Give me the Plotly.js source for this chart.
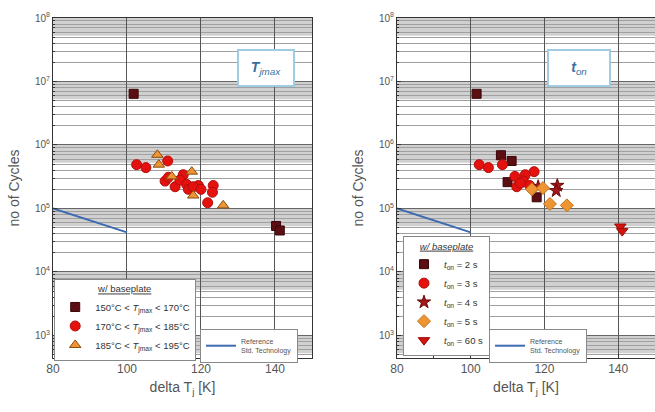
<!DOCTYPE html>
<html>
<head>
<meta charset="utf-8">
<script src="https://cdn.plot.ly/plotly-3.0.1.min.js"></script>
<style>html,body{margin:0;padding:0;background:#fff;}#chart{width:655px;height:412px;}</style>
</head>
<body>
<div id="chart"></div>
<script>
// ---------- data: left panel (T_jmax) ----------
const L_sq_x = [101.8, 140.3, 141.3];
const L_sq_y = [6.4e6, 5.3e4, 4.5e4];
const L_ci_x = [102.6, 105.1, 111.0, 115.2, 110.3, 113.0, 114.3, 116.1, 116.6, 119.3, 123.3, 123.1, 121.8, 111.2, 117.9, 120.0];
const L_ci_y = [4.9e5, 4.4e5, 5.6e5, 3.4e5, 2.7e5, 2.2e5, 2.8e5, 2.4e5, 2.0e5, 2.3e5, 2.3e5, 1.8e5, 1.23e5, 3.1e5, 2.2e5, 2.0e5];
const L_tr_x = [108.2, 108.6, 117.5, 112.1, 117.9, 126.0];
const L_tr_y = [7.0e5, 4.9e5, 3.8e5, 3.2e5, 1.6e5, 1.12e5];
// ---------- data: right panel (t_on) ----------
const R_sq_x = [101.6, 108.2, 111.1, 110.0, 117.9];
const R_sq_y = [6.4e6, 6.9e5, 5.6e5, 2.6e5, 1.5e5];
const R_ci_x = [102.3, 104.8, 108.6, 117.2, 112.0, 114.8, 112.5, 114.3, 116.0, 113.5];
const R_ci_y = [4.9e5, 4.4e5, 4.9e5, 3.8e5, 3.2e5, 3.4e5, 2.2e5, 2.7e5, 2.3e5, 2.5e5];
const R_st_x = [118.3, 123.5, 123.2];
const R_st_y = [2.2e5, 2.3e5, 1.9e5];
const R_di_x = [116.6, 119.6, 121.5, 126.1];
const R_di_y = [2.0e5, 2.1e5, 1.18e5, 1.12e5];
const R_td_x = [140.6, 141.1];
const R_td_y = [5.2e4, 4.4e4];
// ---------- reference line ----------
const ref_x = [80, 100];
const ref_y = [1.0e5, 4.2e4];
// ---------- names / ticks ----------
const L_names = ['150°C < <i>T</i><sub>jmax</sub> < 170°C', '170°C < <i>T</i><sub>jmax</sub> < 185°C', '185°C < <i>T</i><sub>jmax</sub> < 195°C'];
const R_names = ['<i>t</i><sub>on</sub> = 2 s', '<i>t</i><sub>on</sub> = 3 s', '<i>t</i><sub>on</sub> = 4 s', '<i>t</i><sub>on</sub> = 5 s', '<i>t</i><sub>on</sub> = 60 s'];
const ref_name = 'Reference<br>Std. Technology';
const decades = [3, 4, 5, 6, 7, 8];
const y_tickvals = decades.map(d => Math.pow(10, d));
const y_ticktext = decades.map(d => '10<sup>' + d + '</sup>');
const y_minorvals = [];
[2, 3, 4, 5, 6, 7].forEach(d => { for (let k = 2; k <= 9; k++) y_minorvals.push(k * Math.pow(10, d)); });
const x_tickvals = [80, 100, 120, 140];

const C_dark = '#5c0f12', C_red = '#e3120f', C_orange = '#ec9532';

function mk(x, y, name, legend, xa, ya, symbol, color, size, lineColor) {
  return {x: x, y: y, name: name, type: 'scatter', mode: 'markers', legend: legend, xaxis: xa, yaxis: ya,
    marker: {symbol: symbol, color: color, size: size, line: {color: lineColor, width: 1}}};
}
const traces = [
  mk(L_sq_x, L_sq_y, L_names[0], 'legend', 'x', 'y', 'square', C_dark, 9, '#3a0608'),
  mk(L_ci_x, L_ci_y, L_names[1], 'legend', 'x', 'y', 'circle', C_red, 10, '#b50d0b'),
  mk(L_tr_x, L_tr_y, L_names[2], 'legend', 'x', 'y', 'triangle-up', C_orange, 10, '#8a4b12'),
  {x: ref_x, y: ref_y, name: ref_name, type: 'scatter', mode: 'lines', legend: 'legend3', xaxis: 'x', yaxis: 'y',
   line: {color: '#3d6bb0', width: 2}},
  mk(R_sq_x, R_sq_y, R_names[0], 'legend2', 'x2', 'y2', 'square', C_dark, 9, '#3a0608'),
  mk(R_ci_x, R_ci_y, R_names[1], 'legend2', 'x2', 'y2', 'circle', C_red, 10, '#b50d0b'),
  mk(R_st_x, R_st_y, R_names[2], 'legend2', 'x2', 'y2', 'star', '#a3161c', 10, '#6a0a0e'),
  mk(R_di_x, R_di_y, R_names[3], 'legend2', 'x2', 'y2', 'diamond', C_orange, 10, '#c8741c'),
  mk(R_td_x, R_td_y, R_names[4], 'legend2', 'x2', 'y2', 'triangle-down', '#d3140f', 10, '#9a0c08'),
  {x: ref_x, y: ref_y, name: ref_name, type: 'scatter', mode: 'lines', legend: 'legend4', xaxis: 'x2', yaxis: 'y2',
   line: {color: '#3d6bb0', width: 2}}
];

// grey bands near the top of each decade
const shapes = [];
['x', 'x2'].forEach((xa, i) => {
  decades.forEach(d => {
    shapes.push({type: 'rect', layer: 'below', xref: xa + ' domain', yref: i === 0 ? 'y' : 'y2',
      x0: 0, x1: 1, y0: Math.pow(10, d - 0.28), y1: Math.pow(10, d),
      fillcolor: '#d0d0d0', line: {width: 0}});
  });
});

const font = {family: 'Liberation Sans, Arial, sans-serif', color: '#555'};
function xax(domain, anchor) {
  return {domain: domain, anchor: anchor, range: [80, 150], tickmode: 'array', tickvals: x_tickvals,
    showgrid: true, gridcolor: '#555', gridwidth: 1, zeroline: false,
    showline: true, linecolor: '#333', linewidth: 1, mirror: true,
    ticks: 'inside', ticklen: 4, tickcolor: '#333',
    minor: {dtick: 10, ticks: 'inside', ticklen: 3, tickcolor: '#333', showgrid: false},
    tickfont: {size: 12, color: '#555'},
    title: {text: 'delta T<sub>j</sub> [K]', font: {size: 14, color: '#555'}, standoff: 6}};
}
function yax(anchor) {
  return {type: 'log', anchor: anchor, domain: [0, 1], range: [2.645, 8],
    tickmode: 'array', tickvals: y_tickvals, ticktext: y_ticktext,
    showgrid: true, gridcolor: '#666', gridwidth: 1, zeroline: false,
    showline: true, linecolor: '#333', linewidth: 1, mirror: true,
    ticks: 'inside', ticklen: 4, tickcolor: '#333',
    minor: {tickmode: 'array', tickvals: y_minorvals, ticks: 'inside', ticklen: 2, tickcolor: '#333',
      showgrid: true, gridcolor: '#a0a0a0', gridwidth: 1},
    tickfont: {size: 10, color: '#555'},
    title: {text: 'no of Cycles', font: {size: 14, color: '#555'}, standoff: 12}};
}
const legBase = {bgcolor: '#fff', bordercolor: '#888', borderwidth: 1, xanchor: 'left', yanchor: 'top',
  font: {size: 9.5, color: '#333', family: 'Liberation Sans, Arial, sans-serif'}, tracegroupgap: 0, itemwidth: 30};

const layout = {
  width: 655, height: 412, margin: {l: 53, r: 0, t: 18, b: 54},
  paper_bgcolor: '#fff', plot_bgcolor: '#fff', font: font, showlegend: true,
  xaxis: xax([0, 0.4302], 'y'), yaxis: yax('x'),
  xaxis2: xax([0.5714, 1], 'y2'), yaxis2: yax('x2'),
  legend: Object.assign({}, legBase, {x: 0.002, y: 0.232,
    title: {text: '<u>w/ baseplate</u>', side: 'top center', font: {size: 9.5, color: '#333'}}}),
  legend2: Object.assign({}, legBase, {x: 0.5814, y: 0.358,
    title: {text: '<u><i>w/ baseplate</i></u>', side: 'top center', font: {size: 9.5, color: '#333'}}}),
  legend3: Object.assign({}, legBase, {x: 0.2442, y: 0.085, font: {size: 7, color: '#555'}, itemwidth: 30}),
  legend4: Object.assign({}, legBase, {x: 0.7243, y: 0.085, font: {size: 7, color: '#555'}, itemwidth: 30}),
  shapes: shapes,
  annotations: [
    {xref: 'paper', yref: 'paper', x: 0.3538, y: 0.91, showarrow: false, text: '<i><b>T</b><sub>jmax</sub></i>',
     font: {size: 14, color: '#3a6f9e'}, bgcolor: '#fff', bordercolor: '#9fcbe3', borderwidth: 2, width: 52, height: 32},
    {xref: 'paper', yref: 'paper', x: 0.9277, y: 0.91, showarrow: false, text: '<i><b>t</b><sub>on</sub></i>',
     font: {size: 14, color: '#3a6f9e'}, bgcolor: '#fff', bordercolor: '#9fcbe3', borderwidth: 2, width: 58, height: 32}
  ]
};
Plotly.newPlot('chart', traces, layout, {staticPlot: true, displayModeBar: false});
</script>
</body>
</html>
